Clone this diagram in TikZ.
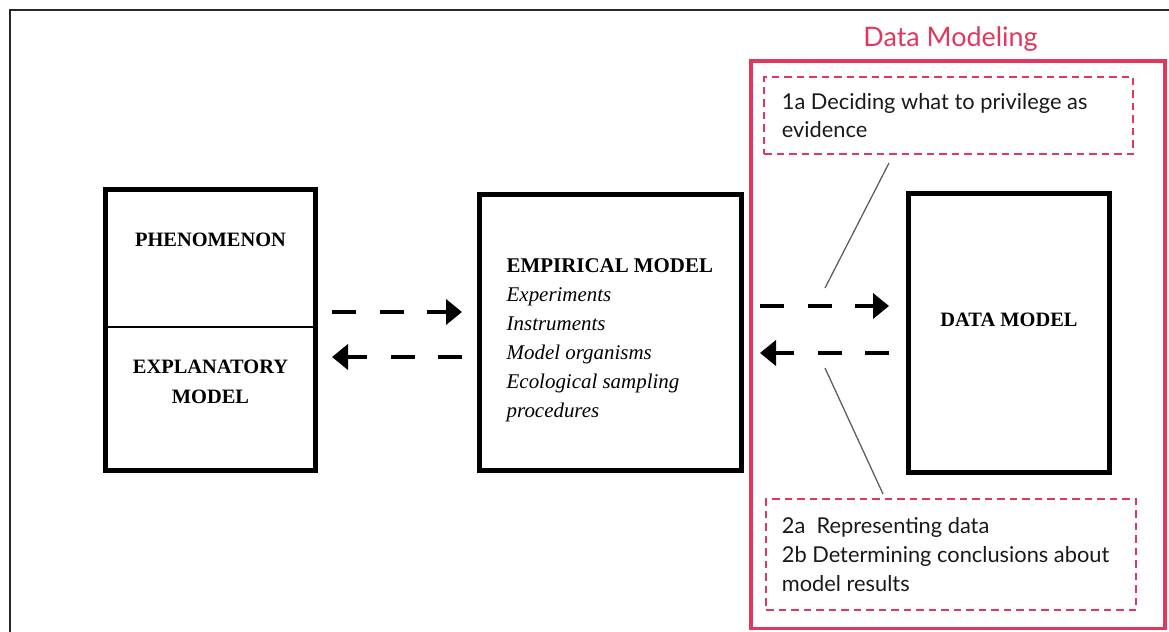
\documentclass[tikz,border=0pt]{standalone}
\usepackage{fontspec}
\setmainfont{Liberation Serif}
\newfontfamily\latof{Lato}
\usetikzlibrary{arrows.meta,calc}
\definecolor{dmpink}{RGB}{226,55,92}
\definecolor{leadergray}{RGB}{95,95,95}
\definecolor{framegray}{RGB}{40,40,40}

\begin{document}
\begin{tikzpicture}[x=1bp,y=-1bp,
  modelbox/.style={draw=black, line width=5bp, inner sep=0pt},
  capsfont/.style={font=\fontsize{20.5}{30}\selectfont\bfseries, align=center, inner sep=0pt},
  listfont/.style={font=\fontsize{21}{29.2}\selectfont, align=left, inner sep=0pt},
  notebox/.style={draw=dmpink, line width=1.7bp, dash pattern=on 7.5bp off 5bp, inner sep=0pt},
  notetext/.style={font=\latof\fontsize{21.9}{28.8}\selectfont, align=left, inner sep=0pt, text=black!90},
  dasharrow/.style={line width=4bp, dash pattern=on 24bp off 23.5bp,
    -{Triangle[length=16bp,width=25bp]}},
  leader/.style={draw=leadergray, line width=1.3bp},
]
\useasboundingbox (0,0) rectangle (1169,632);

% page frame, open to the right and bottom
\draw[framegray, line width=2bp] (9.5,632) |- (1169,10);

% data modeling region
\node[draw=dmpink, line width=3.6bp, inner sep=0pt,
      minimum width=414bp, minimum height=567.5bp] (dmreg) at (958,344.75) {};
\node[text=dmpink, font=\latof\fontsize{27}{30}\selectfont, anchor=base, inner sep=0pt]
  (dmtitle) at (950.5,47) {Data Modeling};

% the three models
\node[modelbox, minimum width=210bp, minimum height=280bp] (phen) at (210.5,330) {};
\draw[line width=2.2bp] (phen.west |- 0,327) -- (phen.east |- 0,327);
\node[capsfont] (phentxt) at (210.5,240) {PHENOMENON};
\node[capsfont] (expltxt) at (210.5,382) {EXPLANATORY\\MODEL};

\node[modelbox, minimum width=262bp, minimum height=275.5bp] (emp) at (610.5,332.25) {};
\node[listfont, anchor=north west] (emptxt) at (506.5,258)
  {\textbf{EMPIRICAL MODEL}\\\textit{Experiments}\\\textit{Instruments}\\
   \textit{Model organisms}\\\textit{Ecological sampling}\\\textit{procedures}};

\node[modelbox, minimum width=200.5bp, minimum height=278.5bp] (data) at (1008.75,333.25) {};
\node[capsfont] (datatxt) at (1009,320) {DATA MODEL};

% dashed notes
\node[notebox, minimum width=369bp, minimum height=77bp] (ev) at (948.5,115.5) {};
\node[notetext, anchor=west] (evtxt) at ([xshift=18.5bp]ev.west)
  {1a Deciding what to privilege as\\evidence};

\node[notebox, minimum width=370bp, minimum height=111bp] (rep) at (951,554.5) {};
\node[notetext, anchor=west] (reptxt) at ([xshift=16.5bp]rep.west)
  {2a\ \ Representing data\\2b Determining conclusions about\\model results};

% arrow end points
\coordinate (a1s) at (332,312);
\coordinate (a1e) at (462,312);
\coordinate (a2s) at (462,357);
\coordinate (a2e) at (332,357);
\coordinate (b1s) at (760,306);
\coordinate (b1e) at (889,306);
\coordinate (b2s) at (889,353);
\coordinate (b2e) at (760,353);

\draw[dasharrow] (a1s) -- (a1e);
\draw[dasharrow] (a2s) -- (a2e);
\draw[dasharrow] (b1s) -- (b1e);
\draw[dasharrow] (b2s) -- (b2e);

% leader lines from the notes to the arrows
\coordinate (l1a) at (889,163);
\coordinate (l1b) at (825,288);
\coordinate (l2a) at (825,368);
\coordinate (l2b) at (883,494);
\draw[leader] (l1a) -- (l1b);
\draw[leader] (l2a) -- (l2b);
\end{tikzpicture}
\end{document}
